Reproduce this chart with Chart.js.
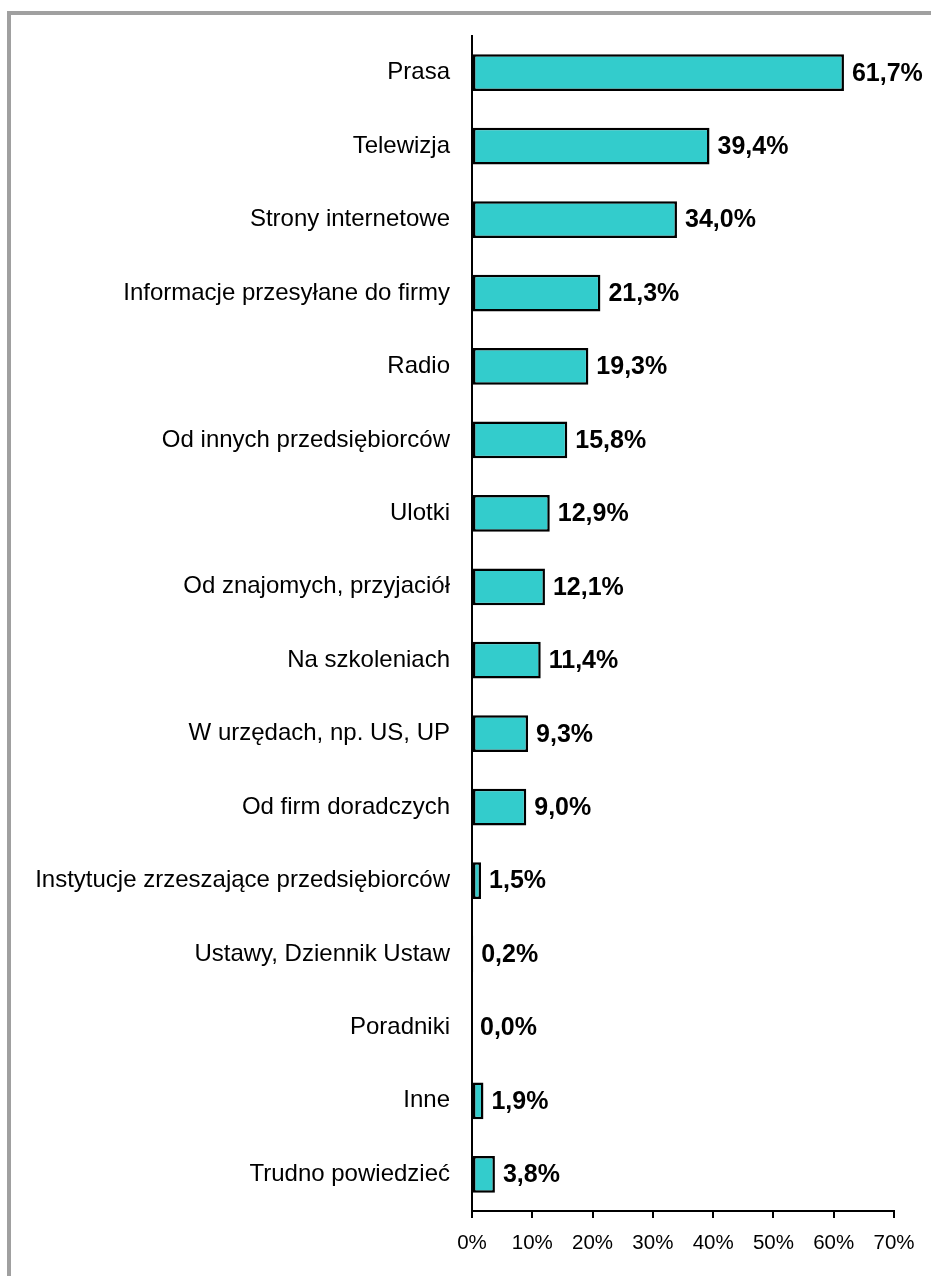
<!DOCTYPE html>
<html>
<head>
<meta charset="utf-8">
<script src="https://cdn.jsdelivr.net/npm/chart.js@4/dist/chart.umd.min.js"></script>
<style>
  html, body { margin: 0; padding: 0; background: #fff; }
  #wrap { position: relative; width: 931px; height: 1276px; overflow: hidden; }
  #frame {
    position: absolute; left: 7px; top: 11px; width: 1000px; height: 1400px;
    border-left: 4px solid #a0a0a0; border-top: 4px solid #a0a0a0;
  }
  #chart { position: absolute; left: 0; top: 0; }
</style>
</head>
<body>
<div id="wrap">
  <div id="frame"></div>
  <canvas id="chart" width="931" height="1276"></canvas>
</div>
<script>
const categories = [
  "Prasa",
  "Telewizja",
  "Strony internetowe",
  "Informacje przesyłane do firmy",
  "Radio",
  "Od innych przedsiębiorców",
  "Ulotki",
  "Od znajomych, przyjaciół",
  "Na szkoleniach",
  "W urzędach, np. US, UP",
  "Od firm doradczych",
  "Instytucje zrzeszające przedsiębiorców",
  "Ustawy, Dziennik Ustaw",
  "Poradniki",
  "Inne",
  "Trudno powiedzieć",
];
const values = [61.7, 39.4, 34.0, 21.3, 19.3, 15.8, 12.9, 12.1, 11.4, 9.3, 9.0, 1.5, 0.2, 0.0, 1.9, 3.8];
const xTicks = [0, 10, 20, 30, 40, 50, 60, 70];

const FONT = "'Liberation Sans', Arial, sans-serif";

// etykiety z wartościami przy końcu słupków
const valueLabels = {
  id: "valueLabels",
  afterDatasetsDraw(chart) {
    const ctx = chart.ctx;
    const meta = chart.getDatasetMeta(0);
    ctx.save();
    ctx.font = "bold 25px " + FONT;
    ctx.fillStyle = "#000";
    ctx.textAlign = "left";
    ctx.textBaseline = "middle";
    meta.data.forEach((bar, i) => {
      const txt = values[i].toFixed(1).replace(".", ",") + "%";
      ctx.fillText(txt, bar.x + 8, bar.y + 1);
    });
    ctx.restore();
  },
};

new Chart(document.getElementById("chart"), {
  type: "bar",
  data: {
    labels: categories,
    datasets: [
      {
        data: values,
        backgroundColor: "#33CCCC",
        borderColor: "#000",
        borderWidth: 2.5,
        borderSkipped: false,
        categoryPercentage: 1,
        barPercentage: 0.5,
      },
    ],
  },
  options: {
    indexAxis: "y",
    responsive: false,
    animation: false,
    events: [],
    layout: { padding: { top: 36, right: 37, left: 0, bottom: 0 } },
    plugins: { legend: { display: false }, tooltip: { enabled: false } },
    scales: {
      x: {
        min: 0,
        max: 70,
        afterBuildTicks: (scale) => {
          scale.ticks = xTicks.map((v) => ({ value: v }));
        },
        afterFit: (scale) => {
          scale.height = 65;
        },
        border: { display: true, color: "#000", width: 2 },
        grid: {
          display: true,
          drawOnChartArea: false,
          drawTicks: true,
          tickLength: 7,
          color: "#000",
          lineWidth: 2,
        },
        ticks: {
          color: "#000",
          font: { family: FONT, size: 20.5 },
          padding: 13,
          autoSkip: false,
          maxRotation: 0,
          callback: (v) => v + "%",
        },
      },
      y: {
        afterFit: (scale) => {
          scale.width = 472;
        },
        border: { display: true, color: "#000", width: 2 },
        grid: { display: false },
        ticks: {
          color: "#000",
          font: { family: FONT, size: 24 },
          padding: 14,
          autoSkip: false,
        },
      },
    },
  },
  plugins: [valueLabels],
});
</script>
</body>
</html>
